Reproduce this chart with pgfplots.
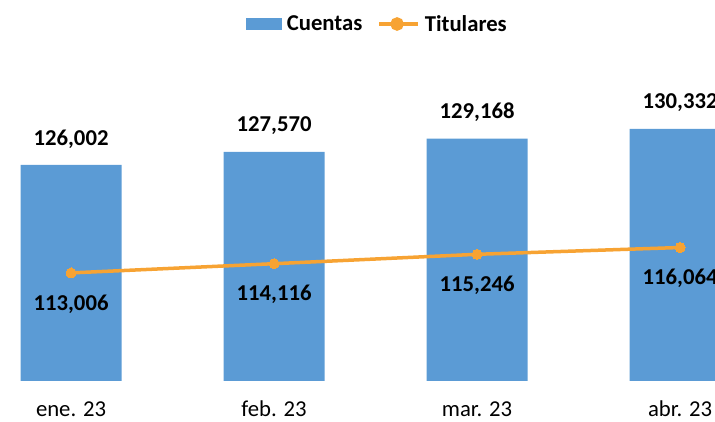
\documentclass[border=0pt]{standalone}
\usepackage{fontspec}
\setmainfont{Carlito}
\usepackage{pgfplots}
\pgfplotsset{compat=1.18}
\definecolor{barblue}{RGB}{91,155,213}
\definecolor{lineor}{RGB}{247,163,51}
\newcommand{\cf}{\fontsize{22.7}{27}\selectfont}
\begin{document}
\begin{tikzpicture}
\useasboundingbox (0pt,0pt) rectangle (715pt,422pt);
\clip (0pt,0pt) rectangle (715pt,422pt);
\begin{pgfinterruptboundingbox}
\begin{axis}[
  at={(0pt,41pt)}, anchor=south west,
  scale only axis, width=715pt, height=332.4pt,
  xmin=-0.35, xmax=3.172, ymin=100000, ymax=140000,
  axis line style={draw=none},
  major tick length=0pt,
  ytick=\empty,
  xtick={0,1,2,3},
  xticklabels={ene. 23, feb. 23, mar. 23, abr. 23},
  xticklabel style={font=\cf, anchor=center, yshift=-28pt, inner sep=0pt},
  clip=false,
  /pgf/number format/assume math mode=true,
  legend columns=2,
  legend style={at={(0.527,1.074)}, anchor=center, draw=none, fill=none,
    font=\cf\bfseries,
    /tikz/every odd column/.append style={column sep=4pt},
    /tikz/every even column/.append style={column sep=14pt},
    nodes={inner sep=1pt}},
]
\addplot[ybar, bar width=101pt, fill=barblue, draw=none,
  nodes near coords={\pgfmathprintnumber[fixed,precision=0,1000 sep={,},assume math mode=true]{\pgfplotspointmeta}},
  every node near coord/.append style={font=\cf\bfseries, anchor=center, yshift=26pt, text=black},
  legend image code/.code={\fill[barblue] (0pt,-6pt) rectangle (36pt,6pt);}]
  coordinates {(0,126002) (1,127570) (2,129168) (3,130332)};
\addlegendentry{Cuentas}
\addplot[lineor, line width=3.5pt, mark=*, mark size=5pt,
  mark options={fill=lineor, draw=lineor, line width=0pt},
  nodes near coords={\pgfmathprintnumber[fixed,precision=0,1000 sep={,},assume math mode=true]{\pgfplotspointmeta}},
  every node near coord/.append style={font=\cf\bfseries, anchor=center, yshift=-31pt, text=black},
  legend image code/.code={\draw[lineor, line width=3.5pt] (0pt,0pt) -- (39pt,0pt); \fill[lineor] (18pt,0pt) circle (5pt);}]
  coordinates {(0,113006) (1,114116) (2,115246) (3,116064)};
\addlegendentry{Titulares}
\end{axis}
\end{pgfinterruptboundingbox}
\end{tikzpicture}
\end{document}
